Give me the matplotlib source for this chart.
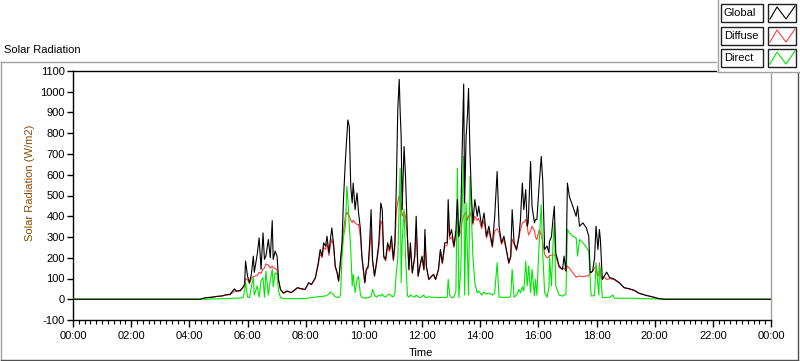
import matplotlib
matplotlib.use("Agg")
import matplotlib.pyplot as plt
from matplotlib.lines import Line2D
from matplotlib.patches import Rectangle
from matplotlib.ticker import FixedLocator, MultipleLocator

plt.rcParams['font.family'] = ['Liberation Sans', 'DejaVu Sans']

# ---------------- data (minutes of day, W/m2) ----------------
minutes = [0, 262, 269, 277, 287, 298, 308, 316, 324, 333, 337, 345, 351, 354, 356, 360, 364, 368,
           372, 374, 380, 384, 388, 392, 395, 398, 403, 407, 411, 413, 417, 421, 424, 428, 434,
           442, 450, 457, 463, 473, 479, 486, 492, 500, 506, 510, 514, 517, 521, 524, 528, 531,
           534, 538, 541, 545, 548, 552, 555, 558, 562, 565, 567, 570, 573, 576, 578, 582, 586,
           589, 593, 596, 602, 605, 609, 612, 615, 618, 622, 626, 631, 635, 638, 641, 645, 649,
           653, 657, 661, 664, 667, 670, 673, 675, 677, 679, 683, 686, 690, 693, 696, 700, 705,
           708, 712, 717, 720, 724, 726, 729, 734, 740, 744, 748, 754, 758, 762, 767, 772, 774,
           777, 781, 786, 790, 793, 796, 800, 803, 806, 808, 811, 814, 816, 819, 822, 825, 829,
           834, 837, 843, 848, 853, 858, 865, 870, 875, 879, 884, 889, 894, 899, 903, 906, 910,
           915, 920, 923, 927, 930, 934, 937, 939, 940, 944, 947, 952, 954, 957, 962, 966, 969,
           973, 978, 982, 983, 987, 990, 993, 996, 1003, 1010, 1013, 1017, 1020, 1024, 1031, 1038,
           1041, 1045, 1052, 1059, 1064, 1067, 1069, 1072, 1076, 1079, 1083, 1085, 1086, 1088,
           1092, 1096, 1101, 1107, 1114, 1117, 1127, 1137, 1147, 1158, 1168, 1182, 1196, 1209,
           1220, 1440]

global_rad = [0, 0, 5, 8, 10, 14, 16, 22, 24, 50, 40, 42, 60, 72, 184, 112, 80, 120,
              208, 130, 216, 296, 144, 320, 192, 208, 288, 200, 379, 192, 232, 208, 96, 48, 30,
              40, 32, 45, 56, 50, 48, 80, 72, 104, 176, 240, 208, 272, 256, 304, 224, 288,
              344, 256, 160, 128, 88, 192, 272, 480, 672, 790, 864, 832, 544, 464, 560, 432, 512,
              420, 336, 208, 80, 144, 160, 272, 432, 192, 112, 176, 272, 464, 432, 208, 192, 272,
              240, 304, 192, 272, 544, 912, 1060, 900, 784, 432, 736, 592, 304, 144, 272, 128, 208,
              400, 112, 176, 208, 144, 336, 160, 96, 112, 120, 96, 144, 240, 176, 272, 272, 480,
              304, 336, 256, 336, 480, 304, 400, 736, 1037, 464, 784, 896, 1016, 704, 496, 368, 480,
              400, 448, 352, 416, 304, 352, 256, 400, 616, 352, 272, 304, 240, 176, 208, 432, 272,
              240, 304, 380, 560, 432, 528, 352, 368, 420, 664, 448, 368, 384, 384, 560, 688, 576,
              240, 256, 224, 280, 300, 380, 448, 224, 160, 144, 208, 136, 560, 496, 448, 400,
              448, 352, 368, 344, 304, 128, 130, 136, 200, 352, 240, 304, 336, 288,
              96, 112, 131, 104, 100, 96, 80, 56, 51, 43, 29, 19, 11, 3,
              0, 0]

diffuse_rad = [0, 0, 5, 8, 10, 14, 16, 20, 22, 40, 38, 40, 55, 65, 100, 95, 75, 100,
               110, 110, 115, 130, 125, 145, 150, 170, 165, 150, 160, 150, 150, 140, 90, 46, 29,
               38, 31, 43, 54, 48, 46, 76, 70, 100, 165, 220, 200, 250, 240, 270, 210, 260,
               290, 245, 155, 124, 86, 180, 250, 330, 400, 420, 410, 400, 380, 370, 380, 368, 360,
               360, 300, 200, 78, 140, 150, 240, 330, 180, 110, 165, 250, 380, 360, 200, 185, 250,
               230, 270, 185, 250, 420, 470, 500, 490, 460, 400, 420, 400, 290, 140, 250, 125, 200,
               330, 110, 170, 200, 140, 300, 155, 94, 110, 116, 94, 140, 230, 170, 255, 260, 384,
               290, 300, 250, 320, 330, 300, 330, 380, 400, 410, 420, 380, 400, 420, 390, 360, 400,
               380, 390, 340, 380, 295, 330, 250, 330, 340, 320, 265, 290, 235, 172, 200, 290, 265,
               235, 300, 336, 368, 370, 384, 352, 320, 310, 330, 352, 330, 300, 288, 336, 310, 280,
               216, 200, 205, 210, 212, 215, 212, 208, 152, 144, 150, 136, 160, 150, 128, 106,
               110, 112, 109, 112, 115, 128, 130, 134, 150, 160, 112, 115, 176, 120,
               96, 108, 95, 100, 96, 94, 78, 55, 50, 42, 28, 19, 11, 3,
               0, 0]

direct_rad = [0, 0, 0, 0, 2, 2, 3, 3, 4, 5, 5, 6, 8, 40, 85, 10, 8, 60,
              104, 20, 64, 10, 90, 104, 10, 136, 20, 90, 144, 60, 128, 120, 40, 8, 3,
              3, 3, 3, 3, 4, 4, 6, 8, 10, 12, 14, 12, 16, 15, 20, 25, 35,
              30, 20, 12, 10, 8, 20, 208, 300, 352, 544, 480, 352, 240, 64, 120, 32, 96,
              110, 20, 10, 5, 8, 8, 10, 15, 48, 20, 10, 20, 15, 25, 15, 10, 20,
              25, 15, 12, 30, 128, 192, 464, 632, 80, 272, 432, 208, 16, 10, 20, 15, 10,
              20, 12, 8, 15, 20, 10, 8, 12, 10, 10, 8, 8, 8, 10, 8, 10, 96,
              20, 8, 10, 40, 632, 8, 144, 464, 688, 20, 464, 200, 20, 592, 400, 208, 80,
              30, 40, 20, 35, 25, 30, 20, 30, 176, 10, 10, 8, 10, 8, 15, 144, 10,
              20, 48, 30, 60, 40, 184, 64, 120, 160, 32, 144, 16, 96, 20, 288, 456, 224,
              32, 10, 60, 208, 64, 256, 368, 64, 20, 15, 20, 25, 336, 320, 304, 296,
              208, 288, 272, 250, 232, 96, 16, 16, 20, 176, 64, 20, 160, 144,
              8, 8, 8, 10, 20, 5, 5, 5, 5, 5, 3, 3, 2, 1,
              0, 0]

x_tick_minutes = [0, 120, 240, 360, 480, 600, 720, 840, 960, 1080, 1200, 1320, 1440]
x_tick_labels = ["00:00", "02:00", "04:00", "06:00", "08:00", "10:00", "12:00",
                 "14:00", "16:00", "18:00", "20:00", "22:00", "00:00"]
y_ticks = [-100, 0, 100, 200, 300, 400, 500, 600, 700, 800, 900, 1000, 1100]
series_names = ["Global", "Diffuse", "Direct"]
series_colors = ["#000000", "#ff3c3c", "#00e600"]

# ---------------- figure ----------------
W, H = 800, 361
fig = plt.figure(figsize=(W / 100, H / 100), dpi=100)
fig.patch.set_facecolor("white")


def fx(x):
    return x / W


def fy(y):
    return 1 - y / H


# outer frame (sunken style)
def fline(x0, y0, x1, y1, color, lw=1.0, z=1):
    fig.add_artist(Line2D([fx(x0), fx(x1)], [fy(y0), fy(y1)], transform=fig.transFigure,
                          color=color, lw=lw, zorder=z))


fline(0.5, 62, 717, 62, "#a0a0a0")
fline(0.5, 62, 0.5, 360, "#a0a0a0")
fline(0.5, 359.5, 797.5, 359.5, "#505050")
fline(797.5, 72, 797.5, 359.5, "#505050")

ax = fig.add_axes([fx(73), fy(320), (771 - 73) / W, (320 - 71) / H])
ax.set_xlim(0, 1440)
ax.set_ylim(-100, 1100)

ax.plot(minutes, diffuse_rad, color=series_colors[1], lw=0.8, zorder=2)
ax.plot(minutes, direct_rad, color=series_colors[2], lw=0.8, zorder=3)
ax.plot(minutes, global_rad, color=series_colors[0], lw=0.8, zorder=4)

ax.xaxis.set_major_locator(FixedLocator(x_tick_minutes))
ax.set_xticklabels(x_tick_labels)
ax.xaxis.set_minor_locator(MultipleLocator(12))
ax.yaxis.set_major_locator(FixedLocator(y_ticks))
ax.set_yticklabels([str(v) for v in y_ticks])

ax.tick_params(axis='x', which='major', direction='out', length=5, width=1, pad=3,
               labelsize=8, color='black')
ax.tick_params(axis='x', which='minor', direction='out', length=3, width=0.8, color='black')
ax.tick_params(axis='y', which='major', direction='out', length=4, width=1, pad=2,
               labelsize=8, color='black')

for s in ['top', 'left', 'bottom']:
    ax.spines[s].set_color('black')
    ax.spines[s].set_linewidth(1.0)
ax.spines['right'].set_color('#a0a0a0')
ax.spines['right'].set_linewidth(1.0)

fig.text(fx(4), fy(50), "Solar Radiation", fontsize=8, va='center', ha='left')
fig.text(fx(30), fy(183), "Solar Radiation (W/m2)", fontsize=8, rotation=90,
         va='center', ha='center', color='#8c4a00')
fig.text(fx(421), fy(353), "Time", fontsize=8, va='center', ha='center')

# legend panel
fig.add_artist(Rectangle((fx(717), fy(72)), fx(800) - fx(717), fy(0) - fy(72),
                         transform=fig.transFigure, facecolor='white', edgecolor='none',
                         zorder=5))
fline(717.5, 0, 717.5, 72, "#a0a0a0", z=6)
fline(717.5, 71.5, 800, 71.5, "#a0a0a0", z=6)

row_tops = [4, 27, 49]
for name, col, top in zip(series_names, series_colors, row_tops):
    bottom = top + 18
    fig.add_artist(Rectangle((fx(721), fy(bottom)), fx(763) - fx(721), fy(top) - fy(bottom),
                             transform=fig.transFigure, facecolor='white',
                             edgecolor='#202020', lw=1.0, zorder=7))
    fig.text(fx(724), fy((top + bottom) / 2), name, fontsize=8, va='center', ha='left',
             zorder=8)
    fig.add_artist(Rectangle((fx(768), fy(bottom)), fx(796) - fx(768), fy(top) - fy(bottom),
                             transform=fig.transFigure, facecolor='white',
                             edgecolor='#202020', lw=1.0, zorder=7))
    zx = [770, 777, 786, 795]
    zy = [bottom - 3, top + 3, bottom - 3, top + 2]
    fig.add_artist(Line2D([fx(v) for v in zx], [fy(v) for v in zy],
                          transform=fig.transFigure, color=col, lw=0.8, zorder=8))

fig.savefig("out.png", dpi=100, facecolor='white')
